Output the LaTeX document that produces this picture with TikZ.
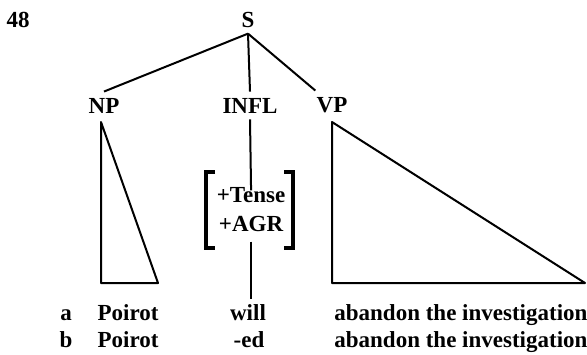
\documentclass[tikz,border=0pt]{standalone}
\usepackage{fontspec}
\setmainfont{Liberation Serif}
\usepackage{tikz}
\usetikzlibrary{calc,positioning}
\tikzset{
  lbl/.style={font=\bfseries\fontsize{11.5}{14.5}\selectfont, inner sep=1pt},
  cat/.style={lbl, anchor=base, inner sep=3pt},
  word/.style={lbl, inner sep=0pt, text height=7.5pt, text depth=1pt, anchor=base},
  branch/.style={line width=1pt},
  brk/.style={line width=1.6pt}
}

\begin{document}
\begin{tikzpicture}[x=0.5pt,y=-0.5pt]
\useasboundingbox (0,0) rectangle (587,354);
\node[lbl, anchor=base] (num) at (18,27) {48};
\node[cat] (S) at (248,27) {S};
\node[cat] (NP) at (104,113) {NP};
\node[cat] (INFL) at (250,113) {INFL};
\node[cat] (VP) at (332,112) {VP};

\draw[branch] (S.south) -- (NP.north);
\draw[branch] (S.south) -- (INFL.north);
\draw[branch] (S.south) -- (VP);

% triangles
\draw[branch, line join=round] (101,122) -- (101,283) -- (158,283) -- cycle;
\draw[branch, line join=round] (332,122) -- (332,283) -- (585,283) -- cycle;

% feature matrix
\node[lbl, align=center] (feat) at (251,210) {+Tense\\+AGR};
\draw[brk] (215,172) -- (206,172) -- (206,248) -- (215,248);
\draw[brk] (284,172) -- (293,172) -- (293,248) -- (284,248);

% rows
\node[word] (a) at (66,320) {a};
\node[word] (pa) at (128,320) {Poirot};
\node[word] (wa) at (248,320) {will};
\node[word, anchor=base west] (va) at (334,320) {abandon the investigation};
\node[word] (b) at (66,347) {b};
\node[word] (pb) at (128,347) {Poirot};
\node[word] (wb) at (249,347) {-ed};
\node[word, anchor=base west] (vb) at (334,347) {abandon the investigation};

\draw[branch, shorten >=-2.5pt] (INFL.south) -- (feat.north);
\draw[branch, shorten <=3.5pt] (feat.south) -- ([yshift=3pt]wa.north -| feat.south);
\end{tikzpicture}
\end{document}
